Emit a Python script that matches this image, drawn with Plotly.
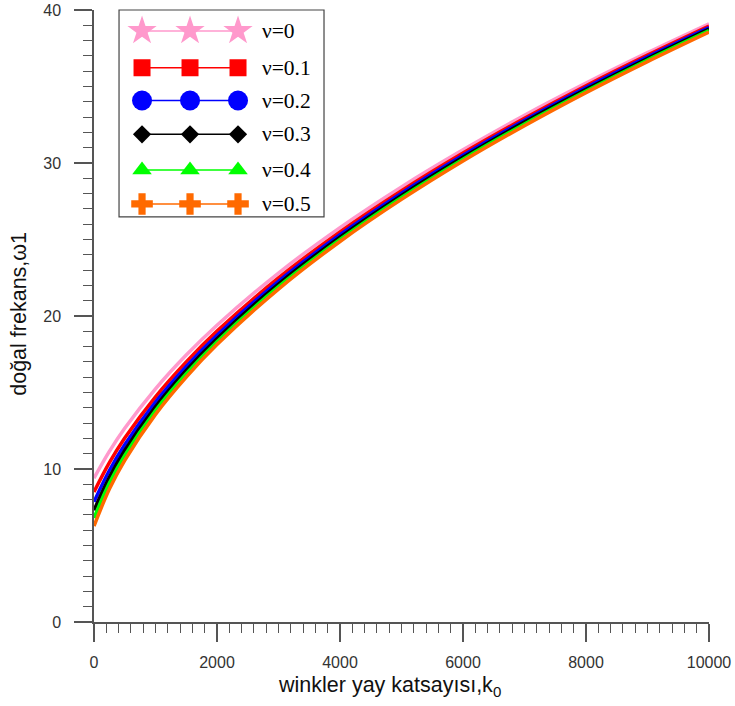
import plotly.graph_objects as go

# Winkler foundation stiffness k0 and first natural frequency for each Poisson ratio
k0 = [0, 250, 500, 1000, 1500, 2000, 3000, 4000, 5000, 6000, 7000, 8000, 9000, 10000]

w_nu00 = [9.40, 11.15, 12.66, 15.24, 17.45, 19.40, 22.81, 25.78, 28.44, 30.86, 33.12, 35.22, 37.21, 39.10]
w_nu01 = [8.50, 10.41, 12.02, 14.72, 17.00, 19.01, 22.49, 25.50, 28.19, 30.65, 32.92, 35.05, 37.05, 38.95]
w_nu02 = [7.86, 9.90, 11.58, 14.37, 16.70, 18.74, 22.27, 25.31, 28.03, 30.50, 32.79, 34.93, 36.94, 38.85]
w_nu03 = [7.30, 9.46, 11.21, 14.07, 16.45, 18.52, 22.09, 25.15, 27.88, 30.37, 32.67, 34.81, 36.83, 38.75]
w_nu04 = [6.80, 9.08, 10.89, 13.82, 16.23, 18.32, 21.92, 25.00, 27.75, 30.25, 32.55, 34.70, 36.73, 38.65]
w_nu05 = [6.27, 8.69, 10.57, 13.57, 16.01, 18.13, 21.76, 24.87, 27.62, 30.13, 32.44, 34.60, 36.63, 38.56]

labels = ["ν=0", "ν=0.1", "ν=0.2", "ν=0.3", "ν=0.4", "ν=0.5"]
series = [w_nu00, w_nu01, w_nu02, w_nu03, w_nu04, w_nu05]
colors = ["#FF99CC", "#FF0000", "#0000FF", "#000000", "#00FF00", "#FF6A00"]
symbols = ["star", "square", "circle", "diamond", "triangle-up", "cross"]
msizes = [22, 17, 20, 14, 17, 18]

x_ticks = [0, 2000, 4000, 6000, 8000, 10000]
y_ticks = [0, 10, 20, 30, 40]

fig = go.Figure()

for ys, c in zip(series, colors):
    fig.add_trace(go.Scatter(
        x=k0, y=ys, mode="lines", line=dict(color=c, width=3.5, shape="spline"),
        showlegend=False, hoverinfo="skip"))

# Key panel: three markers joined by a line for each series
key_x = [23, 71, 119]
row_y = [21, 58, 91, 125, 161, 195]
for i, (lab, c, s, ms) in enumerate(zip(labels, colors, symbols, msizes)):
    fig.add_trace(go.Scatter(
        x=key_x, y=[row_y[i]] * 3, mode="lines+markers",
        line=dict(color=c, width=1.5),
        marker=dict(symbol=s, size=ms, color=c, line=dict(width=0)),
        xaxis="x2", yaxis="y2", showlegend=False, hoverinfo="skip"))
    fig.add_annotation(
        x=141, y=row_y[i], xref="x2", yref="y2", text=lab, showarrow=False,
        xanchor="left", yanchor="middle",
        font=dict(family="Liberation Serif", size=21.5, color="#000000"))

fig.add_shape(type="rect", xref="x2 domain", yref="y2 domain",
              x0=0, x1=1, y0=0, y1=1, line=dict(color="#444444", width=1.2),
              fillcolor="rgba(0,0,0,0)")

axis_col = "#555555"
fig.update_layout(
    width=735, height=706,
    margin=dict(l=94, r=26, t=10, b=84),
    plot_bgcolor="white", paper_bgcolor="white",
    font=dict(family="Liberation Sans", color="#333333"),
    xaxis=dict(
        range=[0, 10000], tickvals=x_ticks, ticktext=[str(v) for v in x_ticks],
        showgrid=False, zeroline=False, showline=True, linecolor=axis_col, linewidth=1.5,
        ticks="outside", ticklen=18, tickwidth=1.5, tickcolor=axis_col,
        ticklabelstandoff=7, automargin=False,
        tickfont=dict(size=16, color="#333333"),
        minor=dict(dtick=200, ticks="outside", ticklen=9, tickwidth=1.2,
                   tickcolor=axis_col, showgrid=False),
    ),
    yaxis=dict(
        range=[0, 40], tickvals=y_ticks, ticktext=[str(v) for v in y_ticks],
        showgrid=False, zeroline=False, showline=True, linecolor=axis_col, linewidth=1.5,
        ticks="outside", ticklen=18, tickwidth=1.5, tickcolor=axis_col,
        ticklabelstandoff=10, automargin=False,
        tickfont=dict(size=16, color="#333333"),
        minor=dict(dtick=1, ticks="outside", ticklen=9, tickwidth=1.2,
                   tickcolor=axis_col, showgrid=False),
    ),
    xaxis2=dict(domain=[0.0407, 0.374], range=[0, 205], visible=False, fixedrange=True,
                automargin=False),
    yaxis2=dict(domain=[0.662, 1.0], range=[208, 0], visible=False, fixedrange=True,
                anchor="x2", automargin=False),
)

fig.add_annotation(
    x=0.481, y=-0.106, xref="paper", yref="paper", showarrow=False,
    text="winkler yay katsayısı,k<sub>0</sub>", xanchor="center", yanchor="middle",
    font=dict(family="Liberation Sans", size=21.5, color="#111111"))
fig.add_annotation(
    x=-0.121, y=0.503, xref="paper", yref="paper", showarrow=False, textangle=-90,
    text="doğal frekans,ω1", xanchor="center", yanchor="middle",
    font=dict(family="Liberation Sans", size=21.5, color="#111111"))

fig.write_html("out.html")
